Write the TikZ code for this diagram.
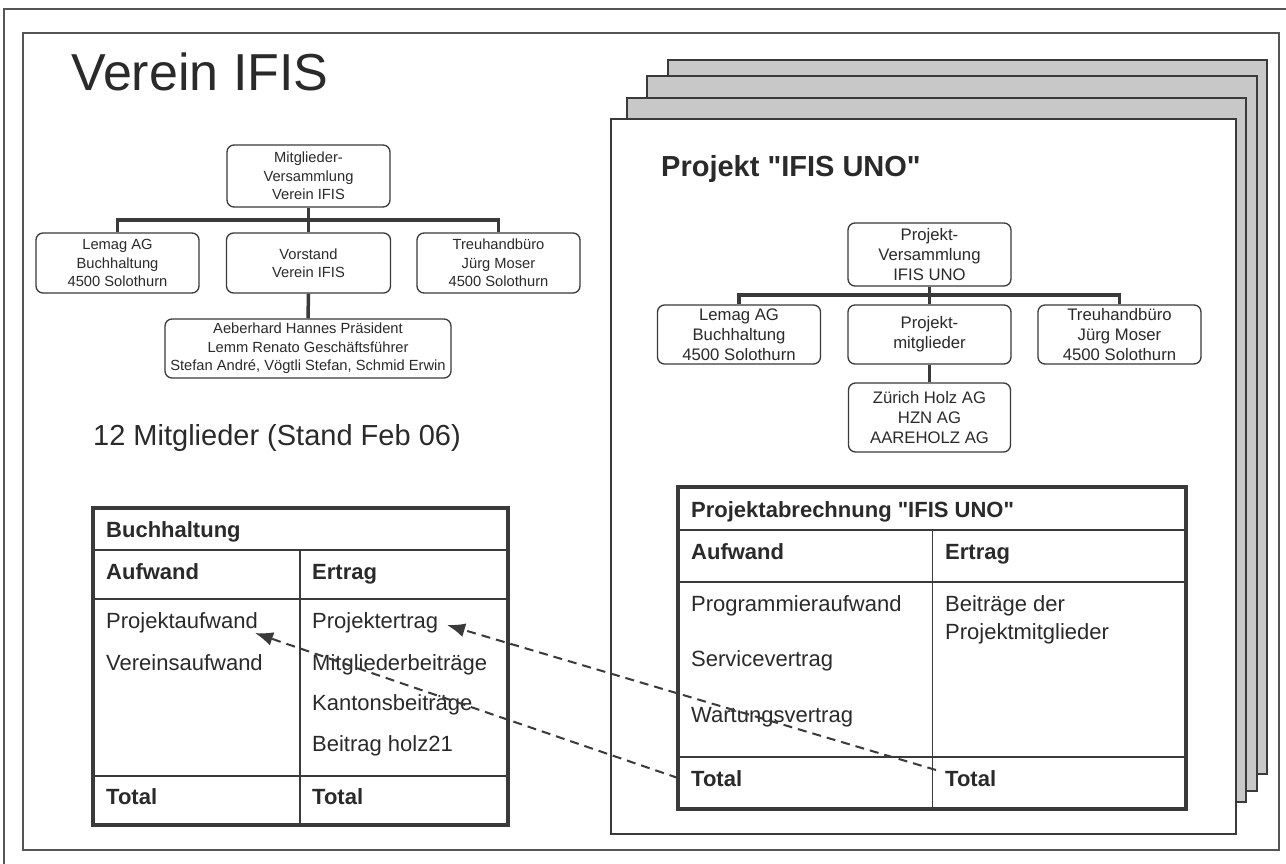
\documentclass[tikz,border=0pt]{standalone}
\usepackage{fontspec}
\setmainfont{Liberation Sans}[Ligatures=TeXOff]
\usetikzlibrary{arrows.meta}
\definecolor{ink}{HTML}{2A2A2A}
\definecolor{linec}{HTML}{3A3A3A}
\definecolor{framec}{HTML}{555555}
\definecolor{pagegray}{HTML}{C8C8C8}
\begin{document}
\begin{tikzpicture}[x=1pt,y=-1pt,
  orgbox/.style={draw=linec, line width=1.3pt, rounded corners=7pt, fill=white, align=center, inner sep=0pt, text=ink},
  lfont/.style={font=\fontsize{14.7}{18.5}\selectfont},
  rfont/.style={font=\fontsize{16.7}{20}\selectfont},
  conn/.style={draw=linec, line width=3.5pt},
  backpage/.style={draw=linec, line width=1.4pt, fill=pagegray},
  frontpage/.style={draw=linec, line width=1.4pt, fill=white},
  tframe/.style={draw=linec, line width=3.5pt, inner sep=0pt},
  tline/.style={draw=linec, line width=1.8pt},
  ttext/.style={anchor=base west, inner sep=0pt, text=ink, font=\fontsize{22}{26}\selectfont},
  thead/.style={anchor=base west, inner sep=0pt, text=ink, font=\fontsize{22}{26}\selectfont\bfseries},
  flow/.style={draw=linec, line width=2pt, dash pattern=on 9pt off 6pt, -{Latex[length=18pt,width=14pt]}},
]
\useasboundingbox (0,0) rectangle (1286,864);
\fill[white] (0,0) rectangle (1286,864);
% outer scan edges and frame
\draw[framec, line width=1.2pt] (4,864) -- (4,9) -- (1286,9);
\draw[framec, line width=1.3pt] (23,33) rectangle (1279,850);

% title and caption
\node[anchor=base west, inner sep=0pt, text=ink, font=\fontsize{52}{60}\selectfont] (title) at (71,91) {Verein IFIS};
\node[anchor=base west, inner sep=0pt, text=ink, font=\fontsize{29}{34}\selectfont] (caption) at (93,445) {12 Mitglieder (Stand Feb 06)};

% left org chart
\node[orgbox, lfont, minimum width=163pt, minimum height=62pt] (mv) at (308.5,176) {Mitglieder-\\Versammlung\\Verein IFIS};
\node[orgbox, lfont, minimum width=163pt, minimum height=60pt] (lemag) at (117.5,263) {Lemag AG\\Buchhaltung\\4500 Solothurn};
\node[orgbox, lfont, minimum width=164pt, minimum height=60pt] (vor) at (308.5,263) {Vorstand\\Verein IFIS};
\node[orgbox, lfont, minimum width=163pt, minimum height=60pt] (treu) at (498.5,263) {Treuhandbüro\\Jürg Moser\\4500 Solothurn};
\node[orgbox, lfont, minimum width=286pt, minimum height=59pt] (stefan) at (308,348.5) {Aeberhard Hannes Präsident\\Lemm Renato Geschäftsführer\\Stefan André, Vögtli Stefan, Schmid Erwin};
\coordinate (barL) at (308.5,220);
\draw[conn] (mv.south) -- (vor.north);
\draw[conn] (lemag.north) -- (lemag.north |- barL) -- (treu.north |- barL) -- (treu.north);
\draw[conn] (vor.south) -- (stefan.north);

% page stack
\draw[backpage] (668,60) rectangle (1267,774);
\draw[backpage] (647,76) rectangle (1257,791);
\draw[backpage] (627,98) rectangle (1246,802);
\draw[frontpage] (611,119) rectangle (1236,834);

\node[anchor=base west, inner sep=0pt, text=ink, font=\fontsize{29}{34}\selectfont\bfseries] (ptitle) at (661,177) {Projekt "IFIS UNO"};

% right org chart
\node[orgbox, rfont, minimum width=163pt, minimum height=63pt] (pv) at (929.5,254.5) {Projekt-\\Versammlung\\IFIS UNO};
\node[orgbox, rfont, minimum width=163pt, minimum height=59pt] (rlemag) at (739,334.5) {Lemag AG\\Buchhaltung\\4500 Solothurn};
\node[orgbox, rfont, minimum width=163pt, minimum height=59pt] (pm) at (929.5,334.5) {Projekt-\\mitglieder};
\node[orgbox, rfont, minimum width=163pt, minimum height=59pt] (rtreu) at (1119.5,334.5) {Treuhandbüro\\Jürg Moser\\4500 Solothurn};
\node[orgbox, rfont, minimum width=162pt, minimum height=69pt] (zh) at (929.5,417.5) {Zürich Holz AG\\HZN AG\\AAREHOLZ AG};
\coordinate (barR) at (929.5,295);
\draw[conn] (pv.south) -- (pm.north);
\draw[conn] (rlemag.north) -- (rlemag.north |- barR) -- (rtreu.north |- barR) -- (rtreu.north);
\draw[conn] (pm.south) -- (zh.north);

% left table: Buchhaltung
\node[tframe, minimum width=415pt, minimum height=317pt] (buch) at (300.5,666.5) {};
\draw[tline] (93,550) -- (508,550);
\draw[tline] (93,599) -- (508,599);
\draw[tline] (93,776) -- (508,776);
\draw[tline] (300,550) -- (300,825);
\node[thead] (bh) at (106,537) {Buchhaltung};
\node[thead] (baufw) at (106,579) {Aufwand};
\node[thead] (bertr) at (312,579) {Ertrag};
\node[ttext] (bpa) at (106,628) {Projektaufwand};
\node[ttext] (bva) at (106,670) {Vereinsaufwand};
\node[ttext] (bpe) at (312,628) {Projektertrag};
\node[ttext] (bmb) at (312,670) {Mitgliederbeiträge};
\node[ttext] (bkb) at (312,710) {Kantonsbeiträge};
\node[ttext] (bbh) at (312,751) {Beitrag holz21};
\node[thead] (btl) at (106,804) {Total};
\node[thead] (btr) at (312,804) {Total};

% right table: Projektabrechnung
\node[tframe, minimum width=508pt, minimum height=322pt] (pab) at (932,648) {};
\draw[tline] (678,530) -- (1186,530);
\draw[tline] (678,582) -- (1186,582);
\draw[tline] (678,757) -- (1186,757);
\draw[tline] (932.5,530) -- (932.5,809);
\node[thead] (ph) at (691,517) {Projektabrechnung "IFIS UNO"};
\node[thead] (paufw) at (691,559) {Aufwand};
\node[thead] (pertr) at (945,559) {Ertrag};
\node[ttext] (ppa) at (691,611) {Programmieraufwand};
\node[ttext] (psv) at (691,666) {Servicevertrag};
\node[ttext] (pwv) at (691,722) {Wartungsvertrag};
\node[ttext, align=left, font=\fontsize{22}{28}\selectfont] (pbt) at (945,639) {Beiträge der\\Projektmitglieder};
\node[thead] (ptl) at (691,786) {Total};
\node[thead] (ptr) at (945,786) {Total};

% dashed flows
\coordinate (srcA) at (678,778);
\coordinate (tipA) at (255,633);
\coordinate (srcB) at (936,770);
\coordinate (tipB) at (447,625);
\draw[flow] (srcA) -- (tipA);
\draw[flow] (srcB) -- (tipB);
\end{tikzpicture}
\end{document}
